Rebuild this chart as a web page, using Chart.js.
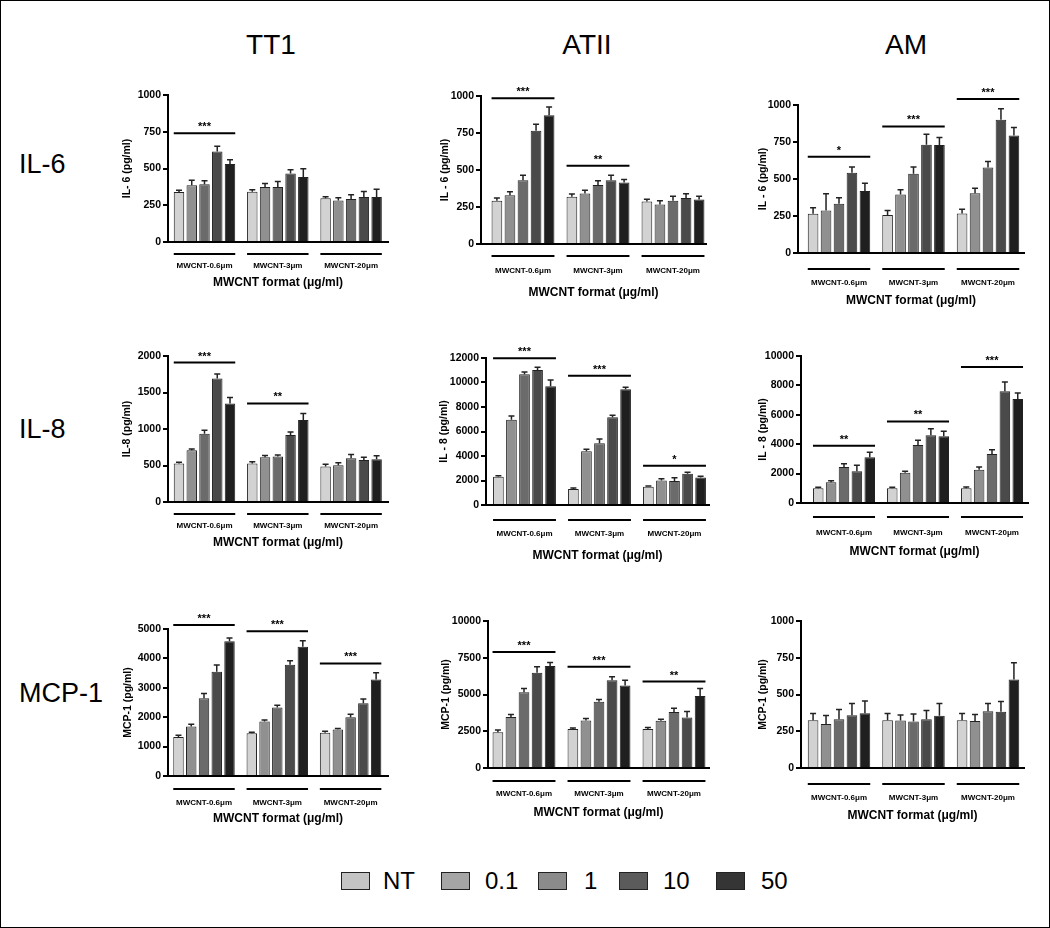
<!DOCTYPE html>
<html>
<head>
<meta charset="utf-8">
<script src="https://cdn.jsdelivr.net/npm/chart.js@4"></script>
<style>
  body { margin: 0; background: #fff; font-family: "Liberation Sans", Arial, sans-serif; }
  #frame { position: relative; width: 1050px; height: 928px; box-sizing: border-box; border: 1px solid #000; overflow: hidden; }
  canvas { position: absolute; }
  .col { position: absolute; top: 28px; font-size: 28px; transform: translateX(-50%); }
  .row { position: absolute; left: 18px; font-size: 27px; transform: translateY(-50%); }
  .leg { position: absolute; top: 871px; width: 27px; height: 16px; border: 1.5px solid #222; }
  .legt { position: absolute; top: 866px; font-size: 24px; }
</style>
</head>
<body>
<div id="frame">
  <div class="col" style="left:270px">TT1</div>
  <div class="col" style="left:586px">ATII</div>
  <div class="col" style="left:905px">AM</div>
  <div class="row" style="top:163px">IL-6</div>
  <div class="row" style="top:428px">IL-8</div>
  <div class="row" style="top:692px">MCP-1</div>
  <div id="legend"></div>
</div>
<script>
const groups = ['MWCNT-0.6\u03bcm', 'MWCNT-3\u03bcm', 'MWCNT-20\u03bcm'];
const doses = ['NT', '0.1', '1', '10', '50'];

// means [group][dose], errors are the upward SEM whiskers
const tt1Il6 = [[340, 386, 393, 616, 530], [341, 375, 375, 466, 443], [298, 282, 292, 306, 306]];
const tt1Il6Err = [[12, 34, 23, 36, 29], [14, 23, 36, 25, 55], [9, 19, 30, 38, 52]];
const tt1Il6Sig = [[0, 740, '***']];

const atiiIl6 = [[292, 330, 431, 766, 870], [319, 342, 398, 431, 416], [287, 267, 292, 310, 300]];
const atiiIl6Err = [[18, 23, 34, 43, 56], [18, 22, 29, 34, 20], [15, 25, 31, 30, 22]];
const atiiIl6Sig = [[0, 985, '***'], [1, 528, '**']];

const amIl6 = [[265, 287, 333, 543, 419], [256, 396, 536, 731, 729], [267, 403, 577, 900, 794]];
const amIl6Err = [[40, 113, 40, 38, 52], [31, 32, 45, 72, 51], [29, 34, 41, 75, 54]];
const amIl6Sig = [[0, 650, '*'], [1, 855, '***'], [2, 1040, '***']];

const tt1Il8 = [[527, 709, 936, 1691, 1350], [527, 614, 623, 918, 1123], [487, 505, 600, 575, 585]];
const tt1Il8Err = [[18, 18, 46, 64, 82], [23, 22, 22, 41, 91], [30, 32, 50, 38, 48]];
const tt1Il8Sig = [[0, 1910, '***'], [1, 1350, '**']];

const atiiIl8 = [[2313, 6966, 10667, 11020, 9687], [1306, 4381, 5034, 7156, 9442], [1500, 2000, 1950, 2550, 2250]];
const atiiIl8Err = [[82, 300, 190, 220, 520], [82, 163, 354, 164, 163], [60, 150, 280, 120, 100]];
const atiiIl8Sig = [[0, 11970, '***'], [1, 10560, '***'], [2, 3200, '*']];

const amIl8 = [[998, 1406, 2449, 2154, 3107], [998, 2063, 3946, 4603, 4535], [998, 2268, 3333, 7596, 7075]];
const amIl8Err = [[68, 113, 227, 408, 340], [68, 91, 317, 454, 340], [90, 181, 295, 635, 408]];
const amIl8Sig = [[0, 3900, '**'], [1, 5550, '**'], [2, 9250, '***']];

const tt1Mcp = [[1330, 1682, 2648, 3545, 4580], [1455, 1852, 2330, 3784, 4398], [1470, 1580, 1995, 2473, 3281]];
const tt1McpErr = [[56, 79, 159, 228, 113], [34, 57, 79, 136, 204], [50, 35, 105, 150, 235]];
const tt1McpSig = [[0, 5136, '***'], [1, 4920, '***'], [2, 3830, '***']];

const atiiMcp = [[2432, 3477, 5159, 6477, 6932], [2659, 3227, 4500, 5977, 5614], [2656, 3219, 3812, 3437, 4906]];
const atiiMcpErr = [[159, 159, 250, 409, 250], [68, 137, 159, 228, 363], [94, 93, 250, 407, 500]];
const atiiMcpSig = [[0, 7886, '***'], [1, 6886, '***'], [2, 5880, '**']];

const amMcp = [[325, 300, 332, 359, 373], [325, 323, 316, 332, 355], [325, 320, 386, 382, 602]];
const amMcpErr = [[45, 57, 66, 80, 82], [45, 38, 52, 59, 84], [45, 44, 53, 70, 114]];
const amMcpSig = [];

const yMax = [1000, 1000, 1000, 2000, 12000, 10000, 5000, 10000, 1000];
const yStep = [250, 250, 250, 500, 2000, 2000, 1000, 2500, 250];
const yTitles = ['IL- 6 (pg/ml)', 'IL - 6 (pg/ml)', 'IL - 6 (pg/ml)',
                 'IL-8 (pg/ml)', 'IL - 8 (pg/ml)', 'IL - 8 (pg/ml)',
                 'MCP-1 (pg/ml)', 'MCP-1 (pg/ml)', 'MCP-1 (pg/ml)'];
const xTitle = 'MWCNT format (\u03bcg/ml)';

const panelMeans = [tt1Il6, atiiIl6, amIl6, tt1Il8, atiiIl8, amIl8, tt1Mcp, atiiMcp, amMcp];
const panelErrs = [tt1Il6Err, atiiIl6Err, amIl6Err, tt1Il8Err, atiiIl8Err, amIl8Err, tt1McpErr, atiiMcpErr, amMcpErr];
const panelSigs = [tt1Il6Sig, atiiIl6Sig, amIl6Sig, tt1Il8Sig, atiiIl8Sig, amIl8Sig, tt1McpSig, atiiMcpSig, amMcpSig];

// plot-area geometry per panel (page pixels) + offsets below the x axis
const geo = [
  { left: 167, right: 387, top: 94, bottom: 241, g0: 203.5, pitch: 73.3, ul: 12, lbl: 24, ttl: 41, ytx: 126 },
  { left: 480, right: 705, top: 95, bottom: 243, g0: 522, pitch: 75, ul: 12, lbl: 27, ttl: 49, ytx: 444 },
  { left: 797, right: 1023, top: 104, bottom: 252, g0: 838, pitch: 74.5, ul: 16, lbl: 30, ttl: 48, ytx: 762 },
  { left: 167, right: 387, top: 355, bottom: 501, g0: 203.5, pitch: 73.3, ul: 12, lbl: 24, ttl: 41, ytx: 126 },
  { left: 485, right: 708, top: 357, bottom: 504, g0: 523.5, pitch: 75, ul: 15, lbl: 29, ttl: 51, ytx: 443 },
  { left: 800, right: 1027, top: 355, bottom: 502, g0: 843, pitch: 74, ul: 14, lbl: 30, ttl: 49, ytx: 762 },
  { left: 167, right: 387, top: 628, bottom: 775, g0: 203, pitch: 73.3, ul: 13, lbl: 27, ttl: 43, ytx: 127 },
  { left: 487, right: 708, top: 620, bottom: 767, g0: 523, pitch: 75, ul: 13, lbl: 26, ttl: 45, ytx: 445 },
  { left: 800, right: 1023, top: 620, bottom: 767, g0: 838, pitch: 74.5, ul: 16, lbl: 30, ttl: 48, ytx: 762 },
];

const barColors = ['#d2d2d2', '#909090', '#6b6b6b', '#4a4a4a', '#1f1f1f'];
const legendColors = ['#c4c4c4', '#a5a5a5', '#8b8b8b', '#5b5b5b', '#353535'];
const FONT = '"Liberation Sans", Arial, sans-serif';
const PAD_L = 70, PAD_T = 34, PAD_R = 8, PAD_B = 60;

// whiskers (up only, GraphPad style)
const errorBars = {
  id: 'errorBars',
  afterDatasetsDraw(chart, args, opts) {
    const ctx = chart.ctx, y = chart.scales.y;
    ctx.save();
    ctx.strokeStyle = '#222';
    ctx.lineWidth = 1.5;
    chart.data.datasets.forEach((ds, i) => {
      chart.getDatasetMeta(i).data.forEach((bar, g) => {
        const top = y.getPixelForValue(ds.data[g].y + opts.errs[g][i]);
        ctx.beginPath();
        ctx.moveTo(bar.x, bar.y);
        ctx.lineTo(bar.x, top);
        ctx.moveTo(bar.x - 3, top);
        ctx.lineTo(bar.x + 3, top);
        ctx.stroke();
      });
    });
    ctx.restore();
  }
};

// significance bars, group underlines and group names
const groupMarks = {
  id: 'groupMarks',
  afterDraw(chart, args, opts) {
    const ctx = chart.ctx, y = chart.scales.y, area = chart.chartArea;
    const first = chart.getDatasetMeta(0).data;
    const last = chart.getDatasetMeta(doses.length - 1).data;
    const span = g => [first[g].x - first[g].width / 2, last[g].x + last[g].width / 2];
    ctx.save();
    ctx.strokeStyle = '#000';
    ctx.fillStyle = '#000';
    ctx.lineWidth = 2;
    ctx.textAlign = 'center';
    groups.forEach((name, g) => {
      const [a, b] = span(g);
      const uy = area.bottom + opts.ul;
      ctx.beginPath();
      ctx.moveTo(a, uy);
      ctx.lineTo(b, uy);
      ctx.stroke();
      ctx.font = 'bold 8px ' + FONT;
      ctx.textBaseline = 'middle';
      ctx.fillText(name, (a + b) / 2, area.bottom + opts.lbl);
    });
    opts.sig.forEach(([g, level, stars]) => {
      const [a, b] = span(g);
      const ly = y.getPixelForValue(level);
      ctx.beginPath();
      ctx.moveTo(a, ly);
      ctx.lineTo(b, ly);
      ctx.stroke();
      ctx.font = 'bold 11px ' + FONT;
      ctx.textBaseline = 'alphabetic';
      ctx.fillText(stars, (a + b) / 2, ly - 3);
    });
    ctx.restore();
  }
};

const frame = document.getElementById('frame');

panelMeans.forEach((means, p) => {
  const g = geo[p];
  const canvas = document.createElement('canvas');
  const w = g.right - g.left + PAD_L + PAD_R;
  const h = g.bottom - g.top + PAD_T + PAD_B;
  canvas.width = w;
  canvas.height = h;
  canvas.style.left = (g.left - PAD_L) + 'px';
  canvas.style.top = (g.top - PAD_T) + 'px';
  frame.appendChild(canvas);

  const xMin = -(g.g0 - g.left) / g.pitch;
  const xMax = xMin + (g.right - g.left) / g.pitch;

  const datasets = doses.map((d, i) => ({
    label: d,
    data: groups.map((name, k) => ({ x: k, y: means[k][i] })),
    backgroundColor: barColors[i],
    borderColor: '#222',
    borderWidth: 1,
    categoryPercentage: 0.87,
    barPercentage: 0.82,
  }));

  new Chart(canvas.getContext('2d'), {
    type: 'bar',
    data: { datasets },
    plugins: [errorBars, groupMarks],
    options: {
      responsive: false,
      animation: false,
      devicePixelRatio: 1,
      layout: { padding: { left: 0, top: PAD_T, right: PAD_R, bottom: 0 } },
      plugins: {
        legend: { display: false },
        tooltip: { enabled: false },
        errorBars: { errs: panelErrs[p] },
        groupMarks: { sig: panelSigs[p], ul: g.ul, lbl: g.lbl },
      },
      scales: {
        x: {
          type: 'linear',
          offset: false,
          min: xMin,
          max: xMax,
          afterBuildTicks: s => { s.ticks = groups.map((n, k) => ({ value: k })); },
          afterFit: s => { s.height = PAD_B; },
          ticks: { display: false },
          grid: { display: false, offset: false },
          border: { color: '#000', width: 2 },
          title: {
            display: true,
            text: xTitle,
            color: '#000',
            font: { family: FONT, size: 12, weight: 'bold', lineHeight: 1.2 },
            padding: { top: 0, bottom: PAD_B - g.ttl - 7.2 },
          },
        },
        y: {
          min: 0,
          max: yMax[p],
          afterFit: s => { s.width = PAD_L; },
          ticks: {
            stepSize: yStep[p],
            color: '#000',
            padding: 2,
            font: { family: FONT, size: 10.5, weight: 'bold' },
            callback: v => String(v),
          },
          grid: { drawOnChartArea: false, drawTicks: true, tickLength: 5, lineWidth: 2, color: '#000' },
          border: { color: '#000', width: 2 },
          title: {
            display: true,
            text: yTitles[p],
            color: '#000',
            font: { family: FONT, size: 10.5, weight: 'bold', lineHeight: 1.2 },
            padding: { top: g.ytx - (g.left - PAD_L) - 6.3, bottom: 0 },
          },
        },
      },
    },
  });
});

// legend
const legX = [340, 440, 537, 618, 715];
const legTextX = [382, 484, 583, 662, 760];
const legend = document.getElementById('legend');
doses.forEach((d, i) => {
  const box = document.createElement('div');
  box.className = 'leg';
  box.style.left = legX[i] + 'px';
  box.style.background = legendColors[i];
  legend.appendChild(box);
  const t = document.createElement('div');
  t.className = 'legt';
  t.style.left = legTextX[i] + 'px';
  t.textContent = d;
  legend.appendChild(t);
});
</script>
</body>
</html>
